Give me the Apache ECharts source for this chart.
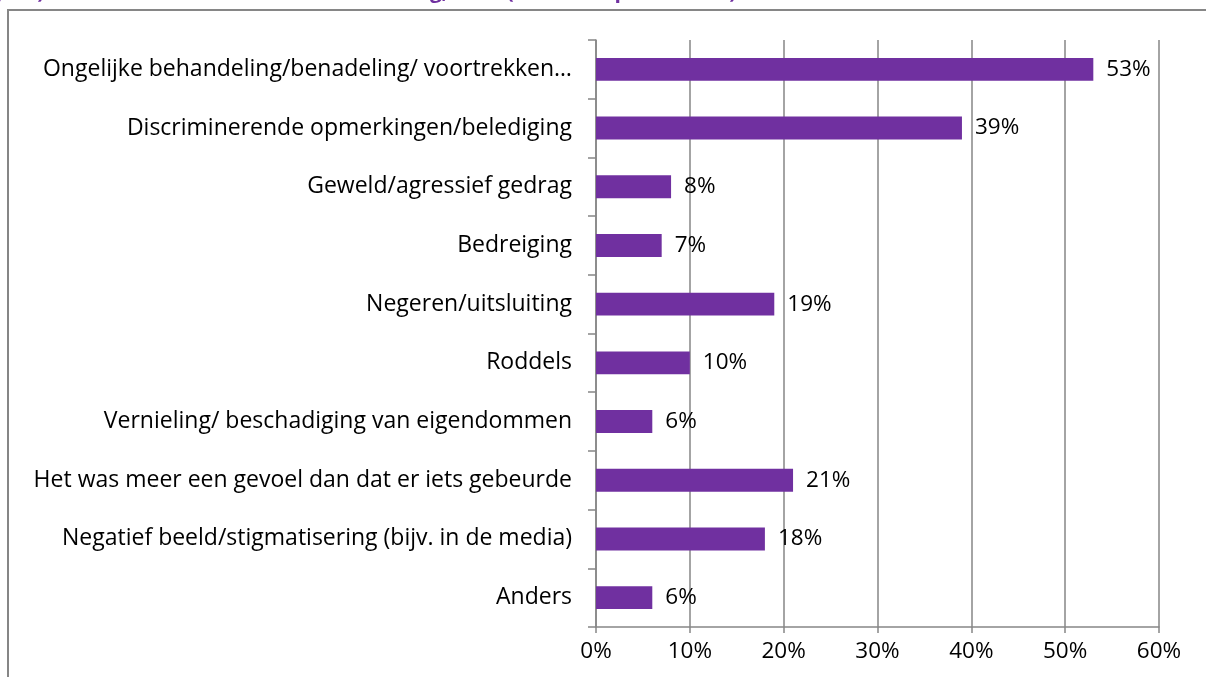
<!DOCTYPE html>
<html>
<head>
<meta charset="utf-8">
<script src="https://cdn.jsdelivr.net/npm/echarts@6/dist/echarts.min.js"></script>
<style>
  html, body { margin: 0; padding: 0; background: #fff; }
  #chart { width: 1206px; height: 677px; }
</style>
</head>
<body>
<div id="chart"></div>
<script>
// categories top -> bottom
const categories = [
    'Ongelijke behandeling/benadeling/ voortrekken…',
    'Discriminerende opmerkingen/belediging',
    'Geweld/agressief gedrag',
    'Bedreiging',
    'Negeren/uitsluiting',
    'Roddels',
    'Vernieling/ beschadiging van eigendommen',
    'Het was meer een gevoel dan dat er iets gebeurde',
    'Negatief beeld/stigmatisering (bijv. in de media)',
    'Anders'
]
const percentages = [53, 39, 8, 7, 19, 10, 6, 21, 18, 6]
const xTicks = [0, 10, 20, 30, 40, 50, 60]

// title is cut off by the top edge in the original, only descenders show
const titleText = 'jaar) naar vorm van discriminatie-ervaring, 2013 (% van respondenten)'

const font = '"Open Sans", "Noto Sans", sans-serif'
const purple = '#7030A0'
const gridGray = '#868686'
const fs = 23

const myChart = echarts.init(document.getElementById('chart'))
myChart.setOption({
    animation: false,
    graphic: [
        {
            type: 'rect',
            shape: { x: 8, y: 10, width: 1400, height: 900 },
            style: { fill: 'none', stroke: gridGray, lineWidth: 2 },
            silent: true
        },
        {
            type: 'text',
            x: -4,
            y: 3,
            style: {
                text: titleText,
                font: 'bold 21px ' + font,
                fill: purple,
                verticalAlign: 'bottom'
            }
        }
    ],
    grid: { left: 596, right: 47, top: 40, bottom: 50 },
    xAxis: {
        type: 'value',
        min: xTicks[0],
        max: xTicks[xTicks.length - 1],
        interval: 10,
        axisLine: { show: true, lineStyle: { color: gridGray, width: 1.5 } },
        axisTick: { show: true, length: 6, lineStyle: { color: gridGray, width: 1.5 } },
        splitLine: { show: true, lineStyle: { color: gridGray, width: 1.5 } },
        axisLabel: {
            margin: 13,
            color: '#000',
            fontFamily: font,
            fontSize: 22.5,
            formatter: v => v + '%'
        }
    },
    yAxis: {
        type: 'category',
        data: categories,
        inverse: true,
        axisLine: { show: true, lineStyle: { color: gridGray, width: 1.5 } },
        axisTick: { show: true, length: 8, inside: false, lineStyle: { color: gridGray, width: 1.5 } },
        axisLabel: {
            margin: 24,
            color: '#000',
            fontFamily: font,
            fontSize: fs
        }
    },
    series: [{
        type: 'bar',
        data: percentages,
        barWidth: '39%',
        itemStyle: { color: purple },
        label: {
            show: true,
            position: 'right',
            distance: 13,
            color: '#000',
            fontFamily: font,
            fontSize: 22.5,
            formatter: p => p.value + '%'
        }
    }]
})
</script>
</body>
</html>
